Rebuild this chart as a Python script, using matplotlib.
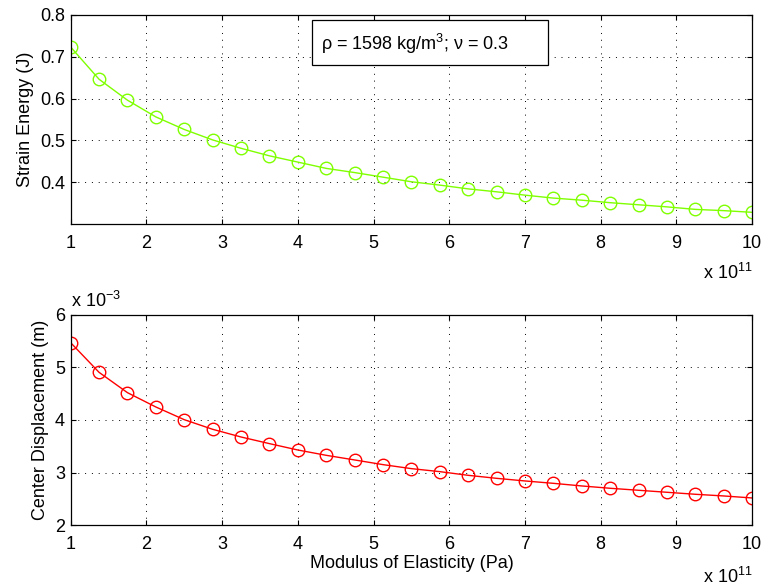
import matplotlib
matplotlib.use("Agg")
import matplotlib.pyplot as plt
from matplotlib.patches import Rectangle

plt.rcParams['font.family'] = ['Liberation Sans', 'DejaVu Sans']
plt.rcParams['mathtext.fontset'] = 'custom'
plt.rcParams['mathtext.rm'] = 'Liberation Sans'

# modulus of elasticity, in units of 1e11 Pa
modulus = [1.0, 1.375, 1.75, 2.125, 2.5, 2.875, 3.25, 3.625, 4.0, 4.375,
           4.75, 5.125, 5.5, 5.875, 6.25, 6.625, 7.0, 7.375, 7.75, 8.125,
           8.5, 8.875, 9.25, 9.625, 10.0]

# strain energy (J)
energy = [0.723, 0.646, 0.596, 0.556, 0.526, 0.501, 0.481, 0.463, 0.448, 0.433,
          0.423, 0.412, 0.401, 0.393, 0.384, 0.377, 0.369, 0.362, 0.357, 0.351,
          0.346, 0.341, 0.335, 0.332, 0.328]

# center displacement, in units of 1e-3 m
displacement = [5.468, 4.905, 4.519, 4.247, 4.006, 3.823, 3.677, 3.551, 3.430, 3.329,
                3.241, 3.152, 3.076, 3.019, 2.949, 2.892, 2.842, 2.797, 2.747, 2.703,
                2.665, 2.627, 2.589, 2.557, 2.519]

xticks = [1, 2, 3, 4, 5, 6, 7, 8, 9, 10]
fs = 13


def style_axes(ax):
    ax.set_xlim(1, 10)
    ax.set_xticks(xticks)
    ax.tick_params(direction='in', top=True, right=True, length=3.5, width=0.8,
                   labelsize=fs)
    ax.tick_params(axis='x', pad=8)
    ax.tick_params(axis='y', pad=4)
    for s in ax.spines.values():
        s.set_linewidth(0.9)
    ax.grid(True, color='black', linestyle=(0, (1, 6)), linewidth=0.7)
    ax.set_axisbelow(True)


fig = plt.figure(figsize=(7.64, 5.86), dpi=100)

ax1 = fig.add_axes([0.0925, 0.6177, 0.892, 0.357])
ax1.plot(modulus, energy, color='#7fff00', linewidth=1, marker='o',
         markersize=9, markerfacecolor='none', markeredgewidth=1)
style_axes(ax1)
ax1.set_ylim(0.3, 0.8)
ax1.set_yticks([0.4, 0.5, 0.6, 0.7, 0.8])
ax1.set_ylabel('Strain Energy (J)', fontsize=fs)

# annotation box
ax1.add_patch(Rectangle((0.3536, 0.7597), 0.3471, 0.215, transform=ax1.transAxes,
                        facecolor='white', edgecolor='black', linewidth=0.9,
                        zorder=5))
ax1.text(0.368, 0.862, r'ρ = 1598 kg/m$^3$; ν = 0.3', transform=ax1.transAxes,
         fontsize=fs, va='center', ha='left', zorder=6)
fig.text(0.92, 1 - 279 / 586, r'x 10$^{11}$', fontsize=fs, va='baseline')

ax2 = fig.add_axes([0.0925, 0.1036, 0.892, 0.3594])
ax2.plot(modulus, displacement, color='red', linewidth=1, marker='o',
         markersize=9, markerfacecolor='none', markeredgewidth=1)
style_axes(ax2)
ax2.set_ylim(2, 6)
ax2.set_yticks([2, 3, 4, 5, 6])
ax2.set_ylabel('Center Displacement (m)', fontsize=fs)
ax2.set_xlabel('Modulus of Elasticity (Pa)', fontsize=fs, labelpad=1)
fig.text(0.093, 1 - 306.7 / 586, r'x 10$^{-3}$', fontsize=fs, va='baseline')
fig.text(0.92, 1 - 583 / 586, r'x 10$^{11}$', fontsize=fs, va='baseline')

fig.savefig('out.png', dpi=100)
